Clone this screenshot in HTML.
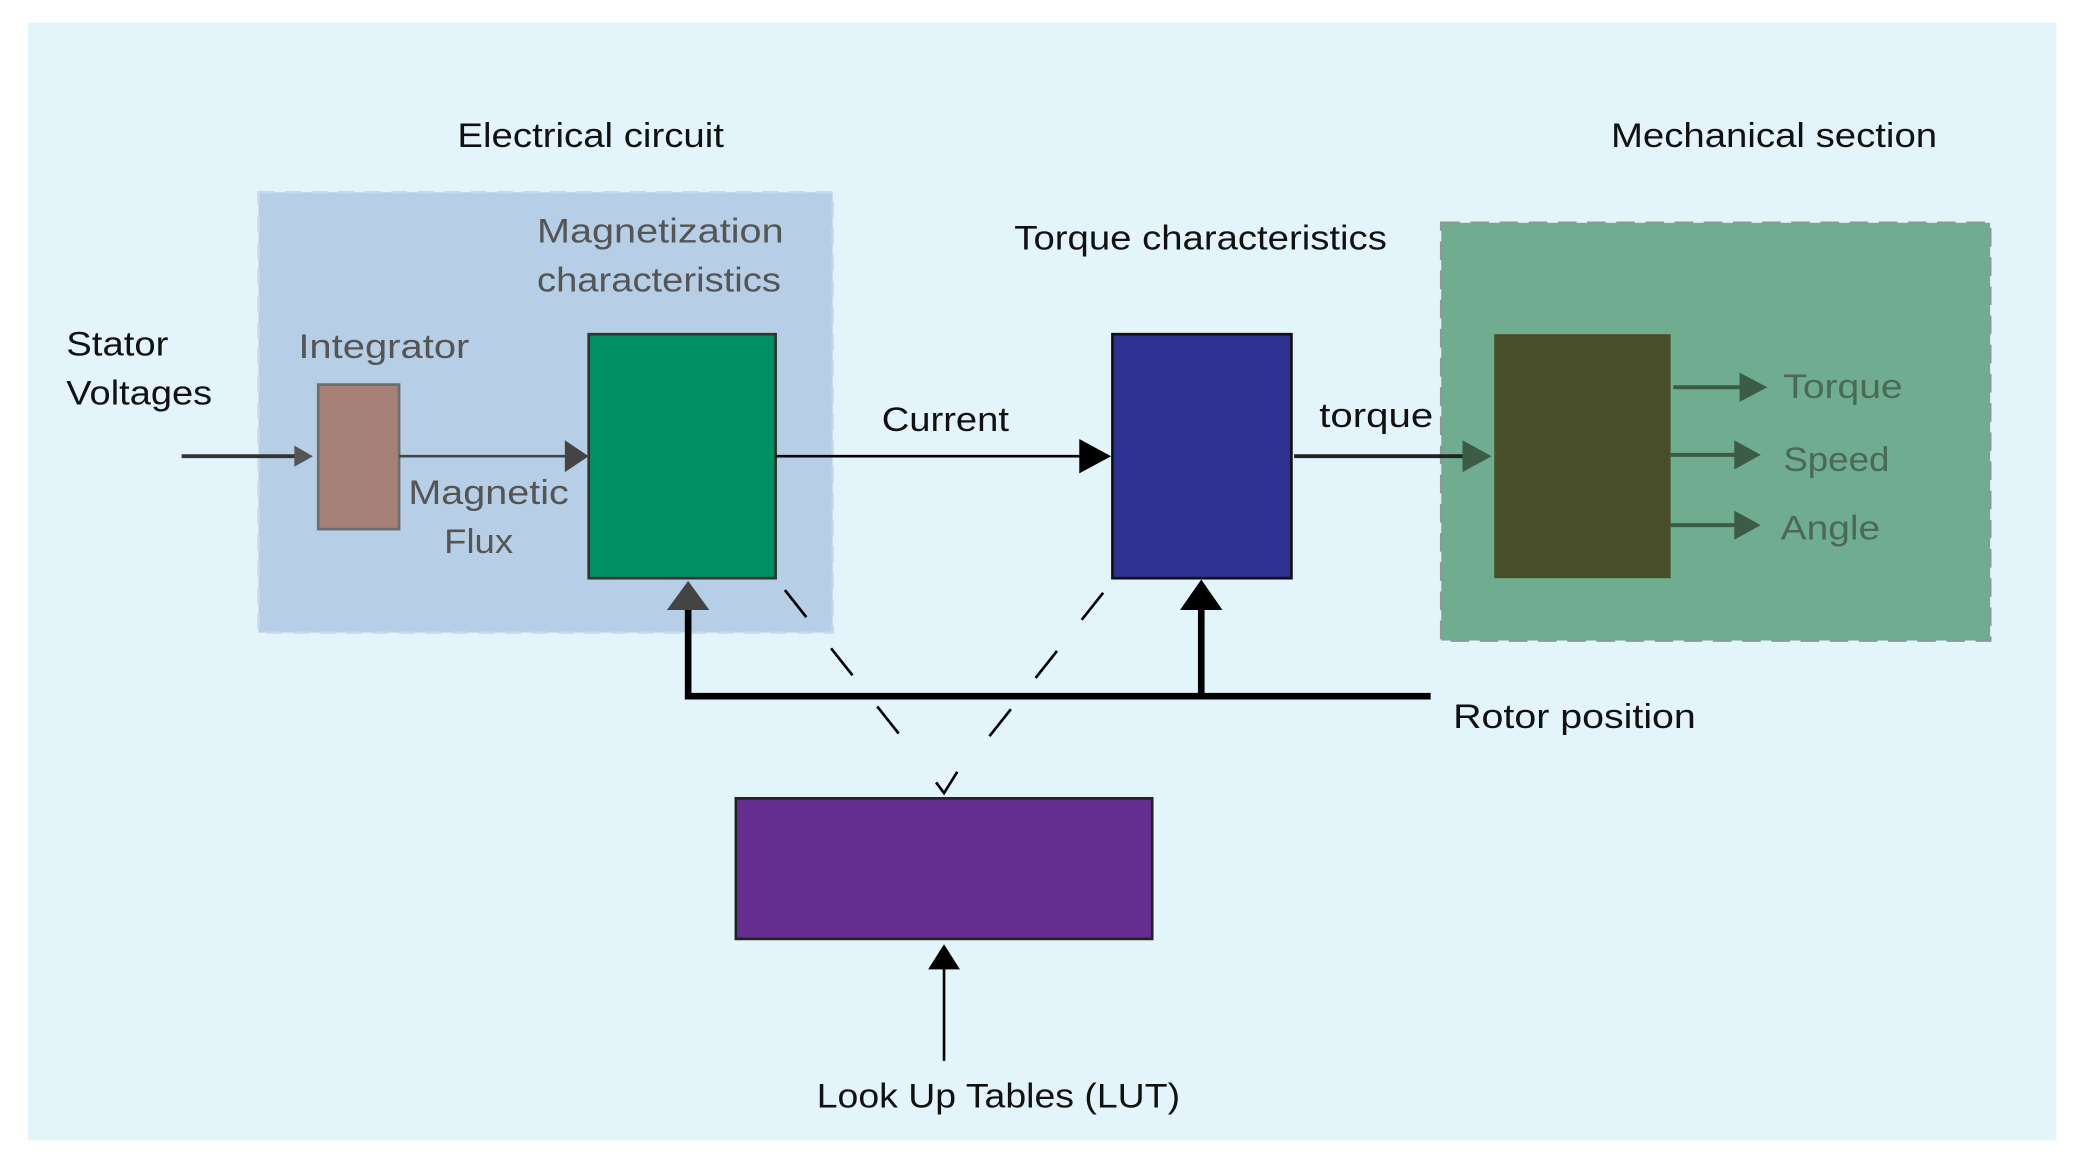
<!DOCTYPE html>
<html><head><style>html,body{margin:0;padding:0;background:#fff}svg{display:block}</style></head>
<body>
<svg width="2079" height="1167" viewBox="0 0 1568 880" preserveAspectRatio="none" xmlns="http://www.w3.org/2000/svg" font-family="Liberation Sans, sans-serif" font-size="26">
<rect x="21" y="17" width="1530" height="843" fill="#e3f4fb"/>
<rect x="195" y="145" width="433" height="332" fill="#b7cfe6" stroke="#c7d9ea" stroke-width="2" stroke-dasharray="12,8"/>
<rect x="1087" y="168" width="414" height="315" fill="#70ad90" stroke="#8a9a95" stroke-width="2" stroke-dasharray="14,8"/>
<rect x="240" y="290" width="61" height="109" fill="#a58178" stroke="#6d6d6d" stroke-width="2"/>
<rect x="444" y="252" width="141" height="184" fill="#008f60" stroke="#333" stroke-width="2"/>
<rect x="839" y="252" width="135" height="184" fill="#2e3192" stroke="#111" stroke-width="2"/>
<rect x="1127" y="252" width="133" height="184" fill="#484e28"/>
<rect x="555" y="602" width="314" height="106" fill="#652d8f" stroke="#222" stroke-width="2"/>
<line x1="137" y1="344" x2="225" y2="344" stroke="#333" stroke-width="3"/>
<path d="M222,336 L236,344 L222,352z" fill="#555"/>
<line x1="301" y1="344" x2="430" y2="344" stroke="#444" stroke-width="2"/>
<path d="M426,332 L444,344 L426,356z" fill="#444"/>
<line x1="585" y1="344" x2="818" y2="344" stroke="#000" stroke-width="2"/>
<path d="M814,331 L838,344 L814,357z" fill="#000"/>
<line x1="976" y1="344" x2="1106" y2="344" stroke="#222" stroke-width="3"/>
<path d="M1103,332 L1125,344 L1103,356z" fill="#3d5c45"/>
<line x1="1262" y1="292" x2="1316" y2="292" stroke="#3d5c45" stroke-width="3"/>
<path d="M1312,281 L1333,292 L1312,303z" fill="#3d5c45"/>
<line x1="1260" y1="343" x2="1312" y2="343" stroke="#3d5c45" stroke-width="3"/>
<path d="M1308,332 L1328,343 L1308,354z" fill="#3d5c45"/>
<line x1="1260" y1="396" x2="1312" y2="396" stroke="#3d5c45" stroke-width="3"/>
<path d="M1308,385 L1328,396 L1308,407z" fill="#3d5c45"/>
<polyline points="519,458 519,525 1079,525" fill="none" stroke="#000" stroke-width="5"/>
<path d="M503,460 L519,438 L535,460z" fill="#444"/>
<line x1="906" y1="525" x2="906" y2="455" stroke="#000" stroke-width="5"/>
<path d="M890,460 L906,437 L922,460z" fill="#000"/>
<line x1="592" y1="445" x2="688" y2="566" stroke="#000" stroke-width="2" stroke-dasharray="26,30"/>
<line x1="832" y1="447" x2="744" y2="558" stroke="#000" stroke-width="2" stroke-dasharray="26,30"/>
<polyline points="706,590 712,598 722,582" fill="none" stroke="#000" stroke-width="2"/>
<line x1="712" y1="800" x2="712" y2="728" stroke="#000" stroke-width="2"/>
<path d="M700,731 L712,712 L724,731z" fill="#000"/>
<g lengthAdjust="spacingAndGlyphs">
<text x="345" y="111" textLength="201" lengthAdjust="spacingAndGlyphs" fill="#111">Electrical circuit</text>
<text x="1215" y="111" textLength="246" lengthAdjust="spacingAndGlyphs" fill="#111">Mechanical section</text>
<text x="405" y="183" textLength="186" lengthAdjust="spacingAndGlyphs" fill="#555">Magnetization</text>
<text x="405" y="220" textLength="184" lengthAdjust="spacingAndGlyphs" fill="#555">characteristics</text>
<text x="765" y="188" textLength="281" lengthAdjust="spacingAndGlyphs" fill="#111">Torque characteristics</text>
<text x="50" y="268" textLength="77" lengthAdjust="spacingAndGlyphs" fill="#111">Stator</text>
<text x="50" y="305" textLength="110" lengthAdjust="spacingAndGlyphs" fill="#111">Voltages</text>
<text x="225" y="270" textLength="129" lengthAdjust="spacingAndGlyphs" fill="#555">Integrator</text>
<text x="308" y="380" textLength="121" lengthAdjust="spacingAndGlyphs" fill="#555">Magnetic</text>
<text x="335" y="417" textLength="52" lengthAdjust="spacingAndGlyphs" fill="#555">Flux</text>
<text x="665" y="325" textLength="96" lengthAdjust="spacingAndGlyphs" fill="#111">Current</text>
<text x="995" y="322" textLength="86" lengthAdjust="spacingAndGlyphs" fill="#111">torque</text>
<text x="1345" y="300" textLength="90" lengthAdjust="spacingAndGlyphs" fill="#4a6a55">Torque</text>
<text x="1345" y="355" textLength="80" lengthAdjust="spacingAndGlyphs" fill="#4a6a55">Speed</text>
<text x="1343" y="407" textLength="75" lengthAdjust="spacingAndGlyphs" fill="#4a6a55">Angle</text>
<text x="1096" y="549" textLength="183" lengthAdjust="spacingAndGlyphs" fill="#111">Rotor position</text>
<text x="616" y="835" textLength="274" lengthAdjust="spacingAndGlyphs" fill="#111">Look Up Tables  (LUT)</text>
</g>
</svg>
</body></html>
